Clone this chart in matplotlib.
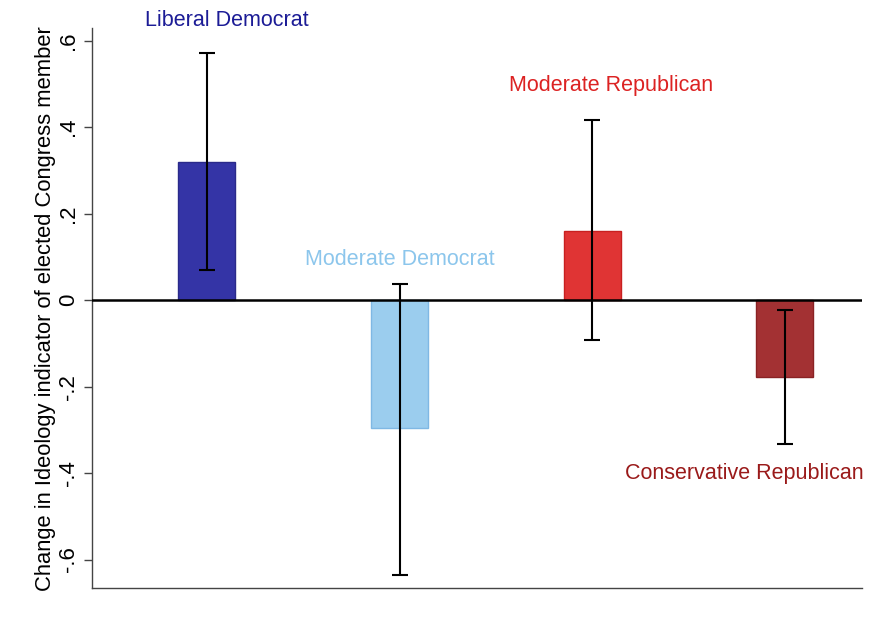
import numpy as np
import matplotlib.pyplot as plt

plt.rcParams["font.family"] = ["Liberation Sans", "DejaVu Sans"]

# data
groups = ["Liberal Democrat", "Moderate Democrat", "Moderate Republican", "Conservative Republican"]
effects = [0.320, -0.296, 0.160, -0.178]
ci_low = [0.069, -0.636, -0.092, -0.333]
ci_high = [0.571, 0.037, 0.416, -0.023]
bar_colors = ["#3434A6", "#9BCDEE", "#E03434", "#A33133"]
edge_colors = ["#2A2A8A", "#7FB8E4", "#C82020", "#8A2224"]
text_colors = ["#1C1C96", "#8CC6EC", "#DC2222", "#9A1A1A"]
label_y = [0.647, 0.095, 0.497, -0.402]
label_x = [1.105, 2.0, 3.10, 3.17]
label_ha = ["center", "center", "center", "left"]
yticks = [-0.6, -0.4, -0.2, 0, 0.2, 0.4, 0.6]
ytick_labels = ["-.6", "-.4", "-.2", "0", ".2", ".4", ".6"]

x = np.arange(1, len(groups) + 1)
effects = np.array(effects)
yerr = np.vstack([effects - np.array(ci_low), np.array(ci_high) - effects])

fig = plt.figure(figsize=(8.76, 6.42), dpi=100)
ax = fig.add_axes([0.105, 0.084, 0.879, 0.872])

ax.bar(x, effects, width=0.295, color=bar_colors, edgecolor=edge_colors, linewidth=1.0, zorder=2)
ax.errorbar(x, effects, yerr=yerr, fmt="none", ecolor="black", elinewidth=1.5,
            capsize=5.5, capthick=1.5, zorder=3)
ax.axhline(0, color="black", linewidth=1.8, zorder=4)

for i, name in enumerate(groups):
    ax.text(label_x[i], label_y[i], name, color=text_colors[i], fontsize=15.5,
            ha=label_ha[i], va="center", clip_on=False)

ax.set_xlim(0.404, 4.40)
ax.set_ylim(-0.666, 0.629)
ax.set_xticks([])
ax.set_yticks(yticks)
ax.set_yticklabels(ytick_labels, rotation=90, va="center", fontsize=16)
ax.tick_params(axis="y", direction="out", length=6, width=1.0, color="#444444", pad=3)
ax.set_ylabel("Change in Ideology indicator of elected Congress member", fontsize=15.8, labelpad=2)

for side in ["top", "right"]:
    ax.spines[side].set_visible(False)
ax.spines["left"].set_color("#444444")
ax.spines["bottom"].set_color("#444444")
ax.spines["left"].set_linewidth(1.0)
ax.spines["bottom"].set_linewidth(1.0)

fig.savefig("out.png", dpi=100)
